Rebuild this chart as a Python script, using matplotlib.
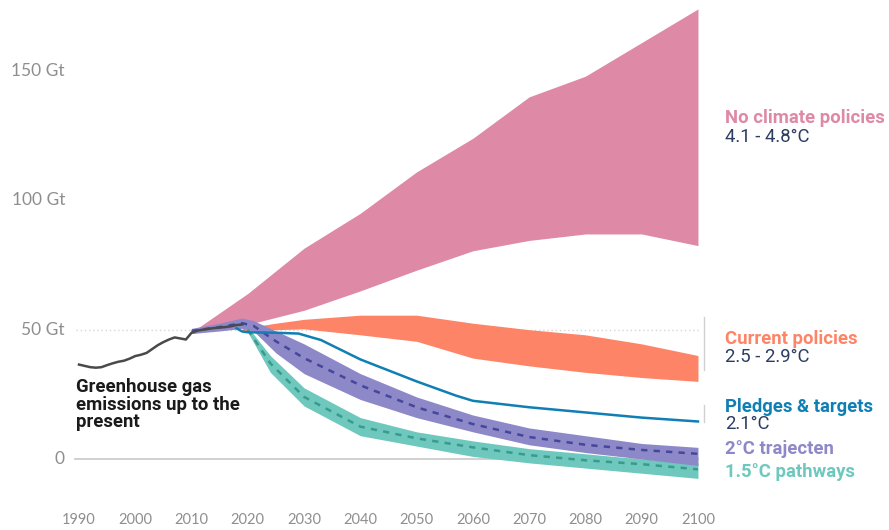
import matplotlib
matplotlib.use("Agg")
import matplotlib.pyplot as plt
import numpy as np

# ---------------- data ----------------
hist_years = list(range(1990, 2020))
hist_vals = [36.5, 36.0, 35.5, 35.3, 35.5, 36.3, 37.0, 37.6, 38.0, 38.8,
             39.8, 40.3, 41.0, 42.5, 44.0, 45.2, 46.2, 47.0, 46.6, 46.2,
             48.8, 49.6, 50.0, 50.3, 50.6, 50.8, 51.0, 51.3, 51.8, 52.0]

noclim_years = [2010, 2020, 2030, 2040, 2050, 2060, 2070, 2080, 2090, 2100]
noclim_low = [48.5, 52.0, 57.5, 65.0, 73.0, 80.5, 84.5, 87.0, 87.0, 82.5]
noclim_high = [49.0, 64.0, 81.5, 95.0, 111.0, 124.0, 140.0, 148.0, 161.0, 174.0]

cur_years = [2019, 2025, 2030, 2040, 2050, 2060, 2070, 2080, 2090, 2100]
cur_low = [49.5, 50.0, 50.3, 48.0, 45.5, 39.0, 36.0, 33.5, 31.5, 30.0]
cur_high = [50.5, 52.5, 54.0, 55.6, 55.6, 52.5, 50.0, 48.0, 44.5, 40.0]

pledge_years = [2018, 2019, 2020, 2025, 2029, 2033, 2040, 2050, 2057, 2060, 2070, 2080, 2090, 2100]
pledge_vals = [50.5, 49.3, 49.0, 48.8, 48.5, 46.0, 38.5, 30.0, 24.5, 22.5, 20.0, 18.0, 16.0, 14.5]

two_years = [2010, 2015, 2019, 2021, 2025, 2030, 2040, 2050, 2060, 2070, 2080, 2090, 2100]
two_mid = [49.5, 51.0, 52.5, 51.5, 45.5, 39.0, 28.5, 20.0, 13.5, 8.5, 5.5, 3.5, 2.0]
two_high = [50.5, 52.5, 54.5, 53.5, 49.5, 44.5, 33.0, 24.0, 17.0, 12.0, 9.0, 6.0, 4.5]
two_low = [48.5, 49.5, 50.5, 49.5, 41.0, 33.0, 23.0, 16.0, 10.5, 5.5, 2.5, 0.0, -2.5]

one5_years = [2020, 2024, 2030, 2040, 2050, 2060, 2070, 2080, 2090, 2100]
one5_mid = [50.0, 37.0, 24.0, 12.5, 8.0, 4.5, 1.5, -0.5, -2.0, -4.0]
one5_high = [51.0, 40.0, 27.5, 16.0, 10.5, 7.0, 4.0, 2.0, 0.0, -1.5]
one5_low = [49.0, 33.5, 20.5, 9.0, 5.0, 1.0, -1.5, -3.5, -5.5, -7.5]

ytick_vals = [0, 50, 100, 150]
ytick_labels = ["0", "50 Gt", "100 Gt", "150 Gt"]
xtick_vals = list(range(1990, 2101, 10))
xtick_labels = [str(v) for v in xtick_vals]

# ---------------- colours ----------------
c_pink = "#de89a5"
c_orange = "#fd8466"
c_blue = "#0f7fb4"
c_purple = "#8d88c8"
c_purple_d = "#45479a"
c_teal = "#6ec8bd"
c_teal_d = "#3a9a8c"
c_navy = "#2c3d62"
c_gray = "#8e8e8e"

fig = plt.figure(figsize=(8.89, 5.30), dpi=100)
ax = fig.add_axes([0, 0, 1, 1])
ax.set_xlim(1975.96, 2133.95)
ax.set_ylim(-27.45, 177.45)
ax.axis("off")

# reference lines
ax.plot([1989.2, 2100], [0, 0], color="#c8c8c8", lw=1.2, zorder=1)
ax.plot([1989.5, 2100.5], [50, 50], color="#d6d6d6", lw=1.0, ls=(0, (1, 2)), zorder=1)

# bands
ax.fill_between(noclim_years, noclim_low, noclim_high, color=c_pink, lw=0, zorder=2)
ax.fill_between(cur_years, cur_low, cur_high, color=c_orange, lw=0, zorder=2)
ax.fill_between(one5_years, one5_low, one5_high, color=c_teal, lw=0, zorder=3)
ax.fill_between(two_years, two_low, two_high, color=c_purple, lw=0, zorder=4)
ax.plot(one5_years, one5_mid, color=c_teal_d, lw=1.8, ls=(0, (2.5, 2.5)), zorder=5)
ax.plot(two_years, two_mid, color=c_purple_d, lw=1.8, ls=(0, (2.5, 2.5)), zorder=5)
ax.plot(pledge_years, pledge_vals, color=c_blue, lw=1.8, zorder=6)
ax.plot(hist_years, hist_vals, color="#4a4a4a", lw=1.8, zorder=7)

# bracket marks
ax.plot([2101, 2101], [34.4, 54.9], color="#d0d0d0", lw=1.0)
ax.plot([2101, 2101], [14.3, 20.9], color="#d0d0d0", lw=1.0)

# ticks
for v, lab in zip(ytick_vals, ytick_labels):
    ax.text(1987.5, v, lab, ha="right", va="center", fontsize=12.5,
            family="Lato", color=c_gray)
for v, lab in zip(xtick_vals, xtick_labels):
    ax.text(v, -23.5, lab, ha="center", va="center", fontsize=10.5,
            family="Lato", color=c_gray)

# annotations
ax.text(1989.5, 31.2, "Greenhouse gas\nemissions up to the\npresent", ha="left", va="top",
        fontsize=13.3, family="Roboto", fontweight="bold", color="#1a1a1a", linespacing=0.95)

lx = 2104.8
lab_fs = 13.3
ax.text(lx, 131.8, "No climate policies", fontsize=lab_fs, family="Roboto",
        fontweight="bold", color=c_pink, va="center", ha="left")
ax.text(lx, 124.5, "4.1 - 4.8°C", fontsize=lab_fs, family="Roboto",
        color=c_navy, va="center", ha="left")
ax.text(lx, 46.4, "Current policies", fontsize=lab_fs, family="Roboto",
        fontweight="bold", color=c_orange, va="center", ha="left")
ax.text(lx, 39.4, "2.5 - 2.9°C", fontsize=lab_fs, family="Roboto",
        color=c_navy, va="center", ha="left")
ax.text(lx, 20.1, "Pledges & targets", fontsize=lab_fs, family="Roboto",
        fontweight="bold", color=c_blue, va="center", ha="left")
ax.text(lx, 13.5, "2.1°C", fontsize=lab_fs, family="Roboto",
        color=c_navy, va="center", ha="left")
ax.text(lx, 3.9, "2°C trajecten", fontsize=lab_fs, family="Roboto",
        fontweight="bold", color=c_purple, va="center", ha="left")
ax.text(lx, -5.0, "1.5°C pathways", fontsize=lab_fs, family="Roboto",
        fontweight="bold", color=c_teal, va="center", ha="left")

fig.savefig("out.png", dpi=100)
